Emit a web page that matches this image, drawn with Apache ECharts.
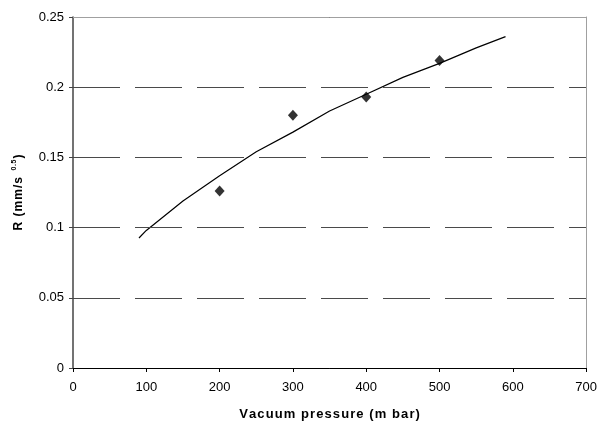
<!DOCTYPE html>
<html><head><meta charset="utf-8">
<script src="https://cdn.jsdelivr.net/npm/echarts@6/dist/echarts.min.js"></script>
<style>html,body{margin:0;padding:0;background:#fff}#c{width:600px;height:426px}</style>
</head><body><div id="c"></div>
<script>
const pointX = [200, 300, 400, 500];
const pointY = [0.126, 0.180, 0.193, 0.219];
const curveX = [90, 100, 150, 200, 250, 300, 350, 400, 450, 500, 550, 590];
const curveY = [0.0926, 0.098, 0.119, 0.137, 0.154, 0.168, 0.183, 0.195, 0.207, 0.217, 0.228, 0.236];
const xTicks = [0, 100, 200, 300, 400, 500, 600, 700];
const yTicks = [0, 0.05, 0.1, 0.15, 0.2, 0.25];
const xName = 'Vacuum pressure (m bar)';
const yNameMain = 'R (mm/s';
const yNameSup = '0.5';

const HS = '\u200A';
const spaced = s => s.split('').join(HS);

const chart = echarts.init(document.getElementById('c'), null, {renderer: 'canvas'});
const font = 'Liberation Sans, Arial, sans-serif';
chart.setOption({
  animation: false,
  backgroundColor: '#fff',
  grid: {left: 73, right: 12, top: 17, bottom: 58, show: false},
  xAxis: [{
    type: 'value', min: xTicks[0], max: xTicks[xTicks.length - 1], interval: 100,
    name: spaced(xName), nameLocation: 'middle', nameGap: 40,
    nameTextStyle: {fontFamily: font, fontWeight: 'bold', fontSize: 13, color: '#000'},
    axisLine: {show: true, onZero: false, lineStyle: {color: '#000', width: 1}},
    axisTick: {show: true, length: 4, lineStyle: {color: '#000'}},
    axisLabel: {fontFamily: font, fontSize: 13, color: '#000', margin: 13},
    splitLine: {show: false}, z: 5
  }, {
    type: 'value', position: 'top', min: xTicks[0], max: xTicks[xTicks.length - 1], interval: 100,
    axisLine: {show: true, onZero: false, lineStyle: {color: '#a0a0a0', width: 1}},
    axisTick: {show: false}, axisLabel: {show: false}, splitLine: {show: false}, z: 5
  }],
  yAxis: [{
    type: 'value', min: yTicks[0], max: yTicks[yTicks.length - 1], interval: 0.05,
    name: '{a|' + spaced(yNameMain) + '  }{s|' + spaced(yNameSup) + '}{a|' + HS + ')}', nameLocation: 'middle', nameGap: 47,
    nameTextStyle: {rich: {
      a: {fontFamily: font, fontWeight: 'bold', fontSize: 12, color: '#000'},
      s: {fontFamily: font, fontWeight: 'bold', fontSize: 7, color: '#000', verticalAlign: 'top', padding: [0, 0, 8, 0]}
    }},
    axisLine: {show: true, onZero: false, lineStyle: {color: '#444', width: 1.5}},
    axisTick: {show: true, length: 4, lineStyle: {color: '#444'}},
    axisLabel: {fontFamily: font, fontSize: 13, color: '#000', margin: 9,
      formatter: v => String(Math.round(v * 100) / 100)},
    splitLine: {show: true, lineStyle: {color: '#4a4a4a', width: 1, type: [47, 15]}}, z: 5
  }, {
    type: 'value', position: 'right', min: yTicks[0], max: yTicks[yTicks.length - 1], interval: 0.05,
    axisLine: {show: true, onZero: false, lineStyle: {color: '#a0a0a0', width: 1}},
    axisTick: {show: false}, axisLabel: {show: false}, splitLine: {show: false}, z: 5
  }],
  series: [
    {type: 'line', data: curveX.map((x, i) => [x, curveY[i]]), showSymbol: false, smooth: false,
     lineStyle: {color: '#000', width: 1.2}, z: 3},
    {type: 'scatter', data: pointX.map((x, i) => [x, pointY[i]]), symbol: 'diamond', symbolSize: [10, 11],
     itemStyle: {color: '#000'}, z: 4}
  ]
});
</script></body></html>
